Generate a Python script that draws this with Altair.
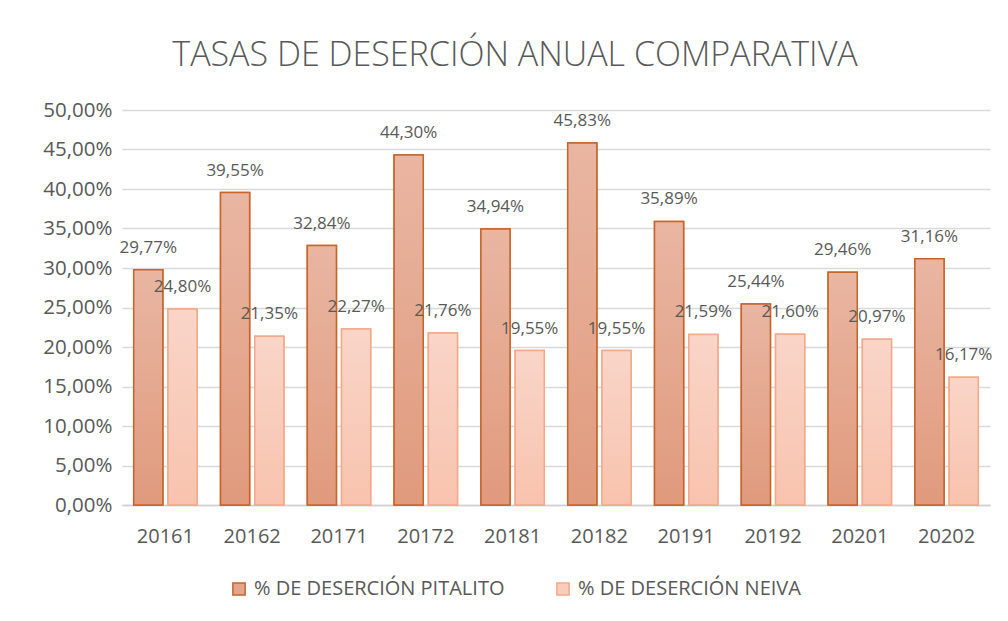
import altair as alt
import pandas as pd

periods = ["20161", "20162", "20171", "20172", "20181", "20182", "20191", "20192", "20201", "20202"]
pitalito = [29.77, 39.55, 32.84, 44.30, 34.94, 45.83, 35.89, 25.44, 29.46, 31.16]
neiva = [24.80, 21.35, 22.27, 21.76, 19.55, 19.55, 21.59, 21.60, 20.97, 16.17]
series_names = ["% DE DESERCIÓN PITALITO", "% DE DESERCIÓN NEIVA"]

rows = []
for p, a, b in zip(periods, pitalito, neiva):
    rows.append({"periodo": p, "serie": series_names[0], "valor": a / 100})
    rows.append({"periodo": p, "serie": series_names[1], "valor": b / 100})
df = pd.DataFrame(rows)

FONT = "Open Sans"
GRAY = "#595959"

x_enc = alt.X("periodo:N", sort=periods, title=None,
              scale=alt.Scale(paddingInner=0.27, paddingOuter=0.135),
              axis=alt.Axis(labelAngle=0, labelFontSize=20, labelColor=GRAY, labelFont=FONT,
                            labelPadding=21, ticks=False, domainColor="#D0D0D0", domainWidth=1.5))
xo_enc = alt.XOffset("serie:N", sort=series_names, scale=alt.Scale(paddingInner=0.15))
y_enc = alt.Y("valor:Q", title=None,
              scale=alt.Scale(domain=[0, 0.5]),
              axis=alt.Axis(values=[i * 0.05 for i in range(11)], labelFontSize=20.5, labelColor=GRAY,
                            labelFont=FONT, labelPadding=10, ticks=False, domain=False,
                            gridColor="#D9D9D9", gridWidth=1.3,
                            labelExpr="replace(format(datum.value, '.2%'), '.', ',')"))

base = alt.Chart(df).encode(x=x_enc, xOffset=xo_enc, y=y_enc)

legend_bars = base.mark_bar(strokeWidth=1.5).encode(
    fill=alt.Fill("serie:N", sort=series_names,
                  scale=alt.Scale(domain=series_names, range=["#E4A58C", "#F9CCBB"]),
                  legend=alt.Legend(title=None, orient="none", legendX=107, legendY=469,
                                    direction="horizontal", labelFontSize=20, labelColor=GRAY,
                                    labelFont=FONT, labelLimit=0, symbolType="square", symbolSize=150,
                                    symbolStrokeWidth=1.5, columnPadding=48, labelOffset=5)),
    stroke=alt.Stroke("serie:N", sort=series_names,
                      scale=alt.Scale(domain=series_names, range=["#C8642A", "#F2A98B"]),
                      legend=None),
)

grad_p = alt.Gradient(gradient="linear", x1=0, y1=0, x2=0, y2=1,
                      stops=[alt.GradientStop(color="#E9B6A2", offset=0),
                             alt.GradientStop(color="#E09A7D", offset=1)])
grad_n = alt.Gradient(gradient="linear", x1=0, y1=0, x2=0, y2=1,
                      stops=[alt.GradientStop(color="#F9D5C8", offset=0),
                             alt.GradientStop(color="#F8C3AE", offset=1)])

bars_p = base.transform_filter(alt.datum.serie == series_names[0]).mark_bar(
    fill=grad_p, stroke="#C8642A", strokeWidth=1.5)
bars_n = base.transform_filter(alt.datum.serie == series_names[1]).mark_bar(
    fill=grad_n, stroke="#F2A98B", strokeWidth=1.5)

labels = base.transform_calculate(
    etiqueta="replace(format(datum.valor, '.2%'), '.', ',')"
).mark_text(dy=-22, fontSize=17, color=GRAY, font=FONT).encode(text="etiqueta:N")

chart = alt.layer(legend_bars, bars_p, bars_n, labels).properties(
    width=868, height=395,
    title=alt.TitleParams("TASAS DE DESERCIÓN ANUAL COMPARATIVA", fontSize=34, font=FONT,
                          fontWeight=300, color=GRAY, anchor="middle", dx=-41, offset=27),
    autosize=alt.AutoSizeParams(type="none"),
    padding={"left": 114, "top": 102, "right": 10, "bottom": 100},
    background="white",
).configure_view(stroke=None)

chart.save("out.html", embed_options={"renderer": "svg", "actions": False})
